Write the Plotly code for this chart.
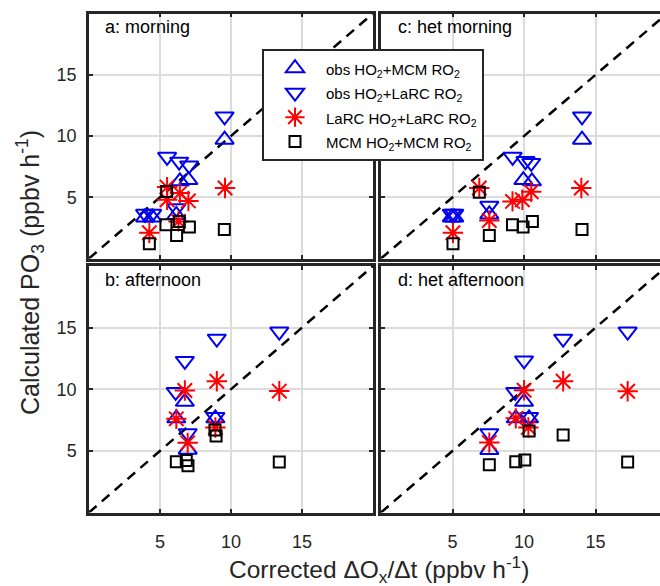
import plotly.graph_objects as go

# ---------------- data ----------------
# a: morning
a_up_x = [3.95, 4.45, 6.15, 6.4, 7.0, 9.55]
a_up_y = [3.35, 3.35, 3.55, 6.3, 6.4, 9.7]
a_dn_x = [3.95, 4.45, 6.15, 5.5, 6.35, 7.05, 9.55]
a_dn_y = [3.65, 3.65, 4.1, 8.3, 7.9, 7.6, 11.6]
a_st_x = [4.25, 5.5, 5.5, 6.4, 6.3, 7.0, 9.58]
a_st_y = [2.1, 5.83, 4.8, 5.34, 3.03, 4.7, 5.75]
a_sq_x = [4.25, 5.47, 5.42, 6.36, 6.17, 7.07, 9.53]
a_sq_y = [1.2, 5.47, 2.76, 3.03, 1.87, 2.58, 2.36]

# c: het morning
c_up_x = [4.95, 5.12, 7.57, 9.95, 10.55, 14.05]
c_up_y = [3.35, 3.35, 3.6, 6.4, 6.3, 9.7]
c_dn_x = [4.95, 5.12, 7.57, 9.2, 10.1, 10.5, 14.05]
c_dn_y = [3.65, 3.65, 4.3, 8.3, 7.95, 7.8, 11.6]
c_st_x = [5.03, 6.87, 7.57, 9.19, 9.88, 10.5, 14.0]
c_st_y = [2.1, 5.75, 3.1, 4.66, 4.8, 5.45, 5.75]
c_sq_x = [5.03, 6.87, 7.57, 9.19, 9.93, 10.58, 14.05]
c_sq_y = [1.2, 5.4, 1.87, 2.76, 2.58, 3.03, 2.36]

# b: afternoon
b_up_x = [6.15, 6.75, 6.95, 8.9]
b_up_y = [7.64, 8.98, 5.1, 7.64]
b_dn_x = [6.1, 6.75, 6.95, 8.9, 9.0, 13.4]
b_dn_y = [9.78, 12.3, 6.43, 7.75, 14.1, 14.68]
b_st_x = [6.15, 6.75, 6.95, 8.9, 9.0, 13.4]
b_st_y = [7.6, 9.9, 5.65, 6.9, 10.65, 9.85]
b_sq_x = [6.15, 6.85, 6.97, 8.87, 8.95, 13.4]
b_sq_y = [4.12, 4.22, 3.8, 6.7, 6.2, 4.1]

# d: het afternoon
d_up_x = [9.42, 10.0, 7.57, 10.35]
d_up_y = [7.64, 8.98, 5.08, 7.64]
d_dn_x = [9.38, 10.0, 7.57, 10.35, 12.73, 17.24]
d_dn_y = [9.78, 12.34, 6.43, 7.75, 14.1, 14.68]
d_st_x = [9.42, 10.0, 7.57, 10.3, 12.73, 17.24]
d_st_y = [7.64, 9.92, 5.67, 6.9, 10.65, 9.84]
d_sq_x = [9.42, 10.05, 7.57, 10.35, 12.73, 17.24]
d_sq_y = [4.12, 4.25, 3.87, 6.61, 6.29, 4.09]

one_to_one = [0, 20]
tick_vals = [5, 10, 15]
tick_text = ["5", "10", "15"]

series_names = [
    'obs HO<sub>2</sub>+MCM RO<sub>2</sub>',
    'obs HO<sub>2</sub>+LaRC RO<sub>2</sub>',
    'LaRC HO<sub>2</sub>+LaRC RO<sub>2</sub>',
    'MCM HO<sub>2</sub>+MCM RO<sub>2</sub>',
]
panel_titles = ["a: morning", "b: afternoon", "c: het morning", "d: het afternoon"]

# ---------------- styling ----------------
BLUE = "#0000f0"
RED = "#ff0000"
BLACK = "#000000"
AX = "#262626"
GRID = "#dcdcdc"
FONT = "Liberation Sans, Arial, sans-serif"
W, H = 660, 586

styles = [
    dict(symbol="triangle-up-open", size=16, color=BLUE),
    dict(symbol="triangle-down-open", size=16, color=BLUE),
    dict(symbol="asterisk-open", size=17, color=RED),
    dict(symbol="square-open", size=11, color=BLACK),
]

panels = [
    ("x", "y", [(a_up_x, a_up_y), (a_dn_x, a_dn_y), (a_st_x, a_st_y), (a_sq_x, a_sq_y)]),
    ("x2", "y2", [(b_up_x, b_up_y), (b_dn_x, b_dn_y), (b_st_x, b_st_y), (b_sq_x, b_sq_y)]),
    ("x3", "y3", [(c_up_x, c_up_y), (c_dn_x, c_dn_y), (c_st_x, c_st_y), (c_sq_x, c_sq_y)]),
    ("x4", "y4", [(d_up_x, d_up_y), (d_dn_x, d_dn_y), (d_st_x, d_st_y), (d_sq_x, d_sq_y)]),
]

fig = go.Figure()

for pi, (xa, ya, data) in enumerate(panels):
    fig.add_trace(go.Scatter(
        x=one_to_one, y=one_to_one, mode="lines", xaxis=xa, yaxis=ya,
        line=dict(color=BLACK, width=2.5, dash="10px,7px"), showlegend=False, hoverinfo="skip"))
    for si, (xs, ys) in enumerate(data):
        st = styles[si]
        fig.add_trace(go.Scatter(
            x=xs, y=ys, mode="markers", xaxis=xa, yaxis=ya,
            name='<span style="font-size:15px">' + series_names[si] + '</span>',
            showlegend=(pi == 0),
            marker=dict(symbol=st["symbol"], size=st["size"], color=st["color"],
                        line=dict(color=st["color"], width=2)),
        ))

def xdom(l, r):
    return [l / W, r / W]

def ydom(t, b):
    return [1 - b / H, 1 - t / H]

left_x = xdom(89, 373)
right_x = xdom(381, 660)
top_y = ydom(13.5, 258.5)
bot_y = ydom(266, 512.5)

common_x = dict(tickvals=tick_vals, ticktext=tick_text, showgrid=True, gridcolor=GRID, gridwidth=1.5,
                zeroline=False, showline=True, linecolor=AX, linewidth=2.5, ticks="inside",
                ticklen=4, tickcolor=AX, tickwidth=1.5,
                tickfont=dict(family=FONT, size=18, color=AX), automargin=False,
                ticklabelstandoff=11)
common_y = dict(tickvals=tick_vals, ticktext=tick_text, showgrid=True, gridcolor=GRID, gridwidth=1.5,
                zeroline=False, showline=True, linecolor=AX, linewidth=2.5, ticks="inside",
                ticklen=4, tickcolor=AX, tickwidth=1.5, range=[0, 20],
                tickfont=dict(family=FONT, size=18, color=AX), automargin=False,
                ticklabelstandoff=6)

fig.update_layout(
    xaxis=dict(common_x, domain=left_x, range=[0, 20], anchor="y", mirror="ticks", showticklabels=False),
    yaxis=dict(common_y, domain=top_y, anchor="x", mirror="ticks", showticklabels=True),
    xaxis2=dict(common_x, domain=left_x, range=[0, 20], anchor="y2", mirror="ticks", showticklabels=True),
    yaxis2=dict(common_y, domain=bot_y, anchor="x2", mirror="ticks", showticklabels=True),
    xaxis3=dict(common_x, domain=right_x, range=[0, 19.5], anchor="y3", mirror="ticks", showticklabels=False),
    yaxis3=dict(common_y, domain=top_y, anchor="x3", mirror=False, showticklabels=False),
    xaxis4=dict(common_x, domain=right_x, range=[0, 19.5], anchor="y4", mirror="ticks", showticklabels=True),
    yaxis4=dict(common_y, domain=bot_y, anchor="x4", mirror=False, showticklabels=False),
)

annotations = []
label_pos = [(103, 27), (103, 280), (396, 27), (396, 280)]
for (px, py), txt in zip(label_pos, panel_titles):
    annotations.append(dict(text=txt, x=px / W, y=1 - py / H, xref="paper", yref="paper",
                            xanchor="left", yanchor="middle", showarrow=False,
                            font=dict(family=FONT, size=18, color=BLACK)))
annotations.append(dict(text="Corrected ΔO<sub>x</sub>/Δt (ppbv h<sup>-1</sup>)",
                        x=379 / W, y=1 - 569.5 / H, xref="paper", yref="paper",
                        xanchor="center", yanchor="middle", showarrow=False,
                        font=dict(family=FONT, size=24.5, color=AX)))
annotations.append(dict(text="Calculated PO<sub>3</sub> (ppbv h<sup>-1</sup>)",
                        x=30 / W, y=1 - 273 / H, xref="paper", yref="paper", textangle=-90,
                        xanchor="center", yanchor="middle", showarrow=False,
                        font=dict(family=FONT, size=25, color=AX)))

fig.update_layout(
    width=W, height=H,
    margin=dict(l=0, r=0, t=0, b=0),
    paper_bgcolor="white", plot_bgcolor="white",
    annotations=annotations,
    legend=dict(x=262 / W, y=1 - 49 / H, xanchor="left", yanchor="top",
                bgcolor="white", bordercolor=AX, borderwidth=2,
                font=dict(family=FONT, size=16.5, color=BLACK), itemwidth=52,
                itemsizing="trace", tracegroupgap=0),
    font=dict(family=FONT),
)

fig.write_html("out.html")
